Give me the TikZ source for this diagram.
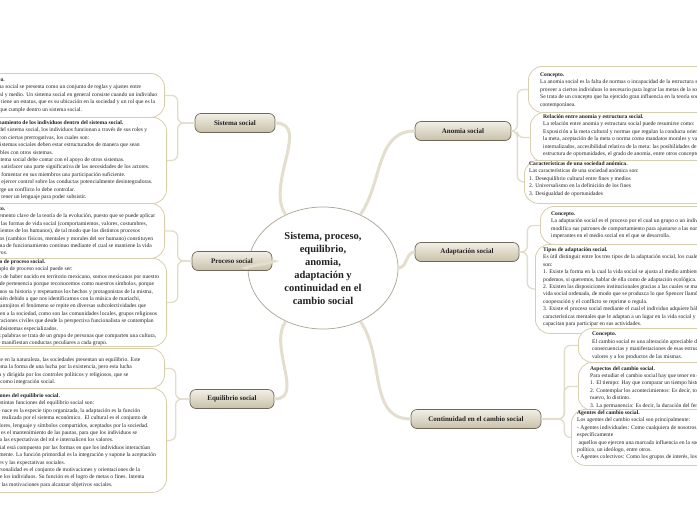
\documentclass[tikz,border=0pt]{standalone}
\usepackage{fontspec}
\setmainfont{Liberation Serif}
\usetikzlibrary{shapes.geometric}
\definecolor{leafline}{HTML}{D8CFAE}
\definecolor{brk}{HTML}{E2DCCB}
\definecolor{trunkc}{HTML}{E3DECE}
\definecolor{brline}{HTML}{6E685A}
\definecolor{brtop}{HTML}{F2EFE6}
\definecolor{brbot}{HTML}{C8C0A8}
\definecolor{txt}{HTML}{222222}
\definecolor{cline}{HTML}{A9A393}
\begin{document}
\begin{tikzpicture}[x=1pt,y=-1pt,
  leafbox/.style={draw=leafline, line width=0.8pt, fill=white, rounded corners=14pt, minimum width=260pt, inner sep=0pt},
  leaftext/.style={align=left, inner sep=0pt, font=\fontsize{5.6}{7.4}\selectfont, text=txt},
  branch/.style={draw=brline, line width=0.7pt, top color=brtop, bottom color=brbot, rounded corners=6pt, minimum height=19pt, inner sep=1pt, font=\fontsize{7}{8}\selectfont\bfseries, text=txt},
  centre/.style={ellipse, draw=cline, line width=0.7pt, fill=white, minimum width=150pt, minimum height=122pt, inner sep=0pt, align=center, font=\fontsize{10.5}{13}\selectfont\bfseries, text=txt},
  brack/.style={draw=brk, line width=1.3pt, rounded corners=6pt},
  trunk/.style={draw=trunkc, line width=3pt}
]
\useasboundingbox (0,0) rectangle (697,520);
\fill[white] (0,0) rectangle (697,520);
\clip (0,0) rectangle (697,520);

% ---------- leaf boxes, left ----------
\node[leafbox, minimum height=44pt, anchor=north east] (L1) at (165,73) {};
\node[leafbox, minimum height=86pt, anchor=north east] (L2) at (167,117) {};
\node[leafbox, minimum height=55pt, anchor=north east] (L3) at (165,203) {};
\node[leafbox, minimum height=88pt, anchor=north east] (L4) at (167,258) {};
\node[leafbox, minimum height=40pt, anchor=north east] (L5) at (165,348) {};
\node[leafbox, minimum height=104pt, anchor=north east] (L6) at (167,388) {};

% ---------- leaf boxes, right ----------
\node[leafbox, minimum height=46pt, anchor=north west] (R1) at (528,66) {};
\node[leafbox, minimum height=50pt, anchor=north west] (R2) at (530,112) {};
\node[leafbox, minimum height=43pt, anchor=north west] (R3) at (524,160) {};
\node[leafbox, minimum height=38pt, anchor=north west] (R4) at (540,206) {};
\node[leafbox, minimum height=89pt, anchor=north west] (R5) at (535,244) {};
\node[leafbox, minimum height=34pt, anchor=north west] (R6) at (578,328) {};
\node[leafbox, minimum height=48pt, anchor=north west] (R7) at (578,362) {};
\node[leafbox, minimum height=56pt, anchor=north west] (R8) at (571,409) {};

% ---------- leaf texts, left ----------
\node[leaftext, anchor=north west] (L1t) at (-19.5,77.5) {\textbf{Concepto.}\\
El sistema social se presenta como un conjunto de reglas y ajustes entre\\
individual y medio. Un sistema social en general consiste cuando un individuo\\
donde él tiene un estatus, que es su ubicación en la sociedad y un rol que es la\\
función que cumple dentro un sistema social.};

\node[leaftext, anchor=north west] (L2t) at (-18,120.5) {\textbf{Funcionamiento de los individuos dentro del sistema social.}\\
Dentro del sistema social, los individuos funcionan a través de sus roles y\\
estatus con ciertas prerrogativas, los cuales son:\\
1. Los sistemas sociales deben estar estructurados de manera que sean\\
compatibles con otros sistemas.\\
2. El sistema social debe contar con el apoyo de otros sistemas.\\
3. Debe satisfacer una parte significativa de las necesidades de los actores.\\
4. Debe fomentar en sus miembros una participación suficiente.\\
5. Debe ejercer control sobre las conductas potencialmente desintegradoras.\\
6. Si surge un conflicto lo debe controlar.\\
7. Debe tener un lenguaje para poder subsistir.};

\node[leaftext, anchor=north west] (L3t) at (-19,206.5) {\textbf{Concepto.}\\
Es un elemento clave de la teoría de la evolución, puesto que se puede aplicar\\
en todas las formas de vida social (comportamientos, valores, costumbres,\\
conocimientos de los humanos), de tal modo que los distintos procesos\\
biológicos (cambios físicos, mentales y morales del ser humano) constituyen\\
un sistema de funcionamiento continuo mediante el cual se mantiene la vida\\
seres vivos.};

\node[leaftext, anchor=north west] (L4t) at (-18,259.5) {\textbf{Ejemplo de proceso social.}\\
Un ejemplo de proceso social puede ser:\\
El hecho de haber nacido en territorio mexicano, somos mexicanos por nuestro\\
sentido de pertenencia porque reconocemos como nuestros símbolos, porque\\
conocemos su historia y respetamos los hechos y protagonistas de la misma,\\
así también debido a que nos identificamos con la música de mariachi,\\
tequila, antojitos el fenómeno se repite en diversas subcolectividades que\\
componen a la sociedad, como son las comunidades locales, grupos religiosos\\
y corporaciones civiles que desde la perspectiva funcionalista se contemplan\\
como subsistemas especializados.\\
En otras palabras se trata de un grupo de personas que comparten una cultura,\\
y que se manifiestan conductas peculiares a cada grupo.};

\node[leaftext, anchor=north west] (L5t) at (-18,357.5) {Igual que en la naturaleza, las sociedades presentan un equilibrio. Este\\
orden toma la forma de una lucha por la existencia, pero esta lucha\\
regulada y dirigida por los controles políticos y religiosos, que se\\
definen como integración social.};

\node[leaftext, anchor=north west] (L6t) at (-14,393.5) {\textbf{Funciones del equilibrio social.}\\
Las distintas funciones del equilibrio social son:\\
El que nace es la especie tipo organizada, la adaptación es la función\\
que es realizada por el sistema económico.\ \ El cultural es el conjunto de\\
los valores, lenguaje y símbolos compartidos, aceptados por la sociedad.\\
Su fin es el mantenimiento de las pautas, para que los individuos se\\
ciñan a las expectativas del rol e internalicen los valores.\\
El social está compuesto por las formas en que los individuos interactúan\\
socialmente. La función primordial es la integración y supone la aceptación\\
de roles y las expectativas sociales.\\
La personalidad es el conjunto de motivaciones y orientaciones de la\\
vida de los individuos. Su función es el logro de metas o fines. Intenta\\
dirigir las motivaciones para alcanzar objetivos sociales.};

% ---------- leaf texts, right ----------
\node[leaftext, anchor=north west] (R1t) at (540,72.5) {\textbf{Concepto.}\\
La anomia social es la falta de normas o incapacidad de la estructura social de\\
proveer a ciertos individuos lo necesario para lograr las metas de la sociedad.\\
Se trata de un concepto que ha ejercido gran influencia en la teoría sociológica\\
contemporánea.};

\node[leaftext, anchor=north west] (R2t) at (543,114.5) {\textbf{Relación entre anomia y estructura social.}\\
La relación entre anomia y estructura social puede resumirse como:\\
Exposición a la meta cultural y normas que regulan la conducta orientada hacia\\
la meta, aceptación de la meta o norma como mandatos morales y valores\\
internalizados, accesibilidad relativa de la meta: las posibilidades de vida en la\\
estructura de oportunidades, el grado de anomia, entre otros conceptos.};

\node[leaftext, anchor=north west] (R3t) at (529,161.5) {\textbf{Características de una sociedad anómica.}\\
Las características de una sociedad anómica son:\\
1. Desequilibrio cultural entre fines y medios\\
2. Universalismo en la definición de los fines\\
3. Desigualdad de oportunidades};

\node[leaftext, anchor=north west] (R4t) at (551,211.5) {\textbf{Concepto.}\\
La adaptación social es el proceso por el cual un grupo o un individuo\\
modifica sus patrones de comportamiento para ajustarse a las normas\\
imperantes en el medio social en el que se desarrolla.};

\node[leaftext, anchor=north west] (R5t) at (543,247.5) {\textbf{Tipos de adaptación social.}\\
Es útil distinguir entre los tres tipos de la adaptación social, los cuales\\
son:\\
1. Existe la forma en la cual la vida social se ajusta al medio ambiente, y\\
podemos, si queremos, hablar de ella como de adaptación ecológica.\\
2. Existen las disposiciones institucionales gracias a las cuales se mantiene la\\
vida social ordenada, de modo que se produzca lo que Spencer llamó\\
cooperación y el conflicto se reprime o regula.\\
3. Existe el proceso social mediante el cual el individuo adquiere hábitos y\\
características mentales que le adaptan a un lugar en la vida social y le\\
capacitan para participar en sus actividades.};

\node[leaftext, anchor=north west] (R6t) at (592,332) {\textbf{Concepto.}\\
El cambio social es una alteración apreciable de las estructuras sociales, las\\
consecuencias y manifestaciones de esas estructuras ligadas a las normas, los\\
valores y a los productos de las mismas.};

\node[leaftext, anchor=north west] (R7t) at (590,366) {\textbf{Aspectos del cambio social.}\\
Para estudiar el cambio social hay que tener en cuenta:\\
1. El tiempo: Hay que comparar un tiempo histórico con otro.\\
2. Contemplar los acontecimientos: Es decir, todo lo viejo, lo\\
nuevo, lo distinto.\\
3. La permanencia: Es decir, la duración del fenómeno.};

\node[leaftext, anchor=north west] (R8t) at (577,410.5) {\textbf{Agentes del cambio social.}\\
Los agentes del cambio social son principalmente:\\
- Agentes individuales: Como cualquiera de nosotros, pero\\
específicamente\\
\ aquellos que ejercen una marcada influencia en la sociedad: un\\
político, un ideólogo, entre otros.\\
- Agentes colectivos: Como los grupos de interés, los partidos políticos.};

% ---------- centre and branches ----------
\node[centre] (C) at (323,268) {Sistema, proceso,\\equilibrio,\\anomia,\\adaptación y\\continuidad en el\\cambio social};

\node[branch, minimum width=80pt] (S) at (235,123) {Sistema social};
\node[branch, minimum width=80pt] (P) at (232,261) {Proceso social};
\node[branch, minimum width=84pt] (E) at (232,399) {Equilibrio social};
\node[branch, minimum width=96pt] (A) at (463,131) {Anomia social};
\node[branch, minimum width=104pt] (D) at (467,252) {Adaptación social};
\node[branch, minimum width=130pt] (K) at (476,419) {Continuidad en el cambio social};

% ---------- trunks ----------
\draw[trunk] (C) to[out=125,in=0] (S.east);
\draw[trunk] (C) to[out=180,in=0] (P.east);
\draw[trunk] (C) to[out=235,in=0] (E.east);
\draw[trunk] (C) to[out=55,in=180] (A.west);
\draw[trunk] (C) to[out=0,in=180] (D.west);
\draw[trunk] (C) to[out=305,in=180] (K.west);

% ---------- brackets ----------
\draw[brack] (S.west) -- ++(-17,0) |- (L1.east);
\draw[brack] (S.west) -- ++(-17,0) |- (L2.east);
\draw[brack] (P.west) -- ++(-14,0) |- (L3.east);
\draw[brack] (P.west) -- ++(-14,0) |- (L4.east);
\draw[brack] (E.west) -- ++(-14,0) |- (L5.east);
\draw[brack] (E.west) -- ++(-14,0) |- (L6.east);

\draw[brack] (A.east) -- ++(6,0) |- (R1.west);
\draw[brack] (A.east) -- ++(6,0) |- (R2.west);
\draw[brack] (A.east) -- ++(6,0) |- (R3.west);
\draw[brack] (D.east) -- ++(8,0) |- (R4.west);
\draw[brack] (D.east) -- ++(8,0) |- (R5.west);
\draw[brack] (K.east) -- ++(23,0) |- (R6.west);
\draw[brack] (K.east) -- ++(23,0) |- (R7.west);
\draw[brack] (K.east) -- ++(23,0) |- (R8.west);
\end{tikzpicture}
\end{document}
